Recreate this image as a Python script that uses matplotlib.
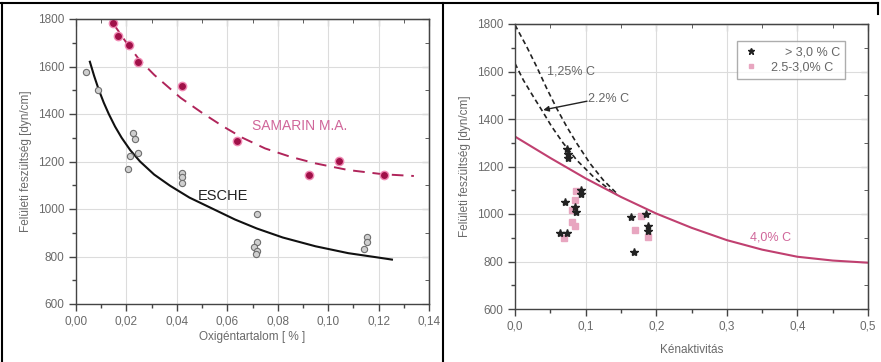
import matplotlib
matplotlib.use('Agg')
import matplotlib.pyplot as plt
from matplotlib.lines import Line2D
from matplotlib.ticker import MultipleLocator, FuncFormatter

plt.rcParams['font.family'] = ['Liberation Sans', 'DejaVu Sans']

# left panel: oxygen content
samarin_x = [0.0146, 0.0165, 0.0212, 0.0247, 0.0419, 0.064, 0.0926, 0.1045, 0.122]
samarin_y = [1782, 1730, 1692, 1618, 1517, 1285, 1144, 1203, 1144]
samarin_curve_x = [0.0145, 0.020, 0.025, 0.031, 0.0415, 0.050, 0.058, 0.066, 0.075,
                   0.085, 0.095, 0.108, 0.122, 0.134]
samarin_curve_y = [1785, 1700, 1630, 1565, 1468, 1405, 1350, 1300, 1255,
                   1220, 1192, 1164, 1146, 1139]

esche_x = [0.0038, 0.0089, 0.0225, 0.0234, 0.0214, 0.0247, 0.0208, 0.0419, 0.0419,
           0.0419, 0.0717, 0.0717, 0.0704, 0.0719, 0.0714, 0.1153, 0.1156, 0.1144]
esche_y = [1576, 1501, 1319, 1295, 1224, 1234, 1167, 1150, 1133,
           1108, 979, 862, 839, 825, 811, 883, 860, 832]
esche_curve_x = [0.0055, 0.0072, 0.009, 0.011, 0.013, 0.0155, 0.0181, 0.0215, 0.0254,
                 0.031, 0.0373, 0.045, 0.0544, 0.063, 0.0717, 0.082, 0.095, 0.108,
                 0.119, 0.1253]
esche_curve_y = [1620, 1560, 1503, 1448, 1400, 1347, 1300, 1248, 1200,
                 1145, 1098, 1048, 1000, 956, 918, 880, 843, 814,
                 797, 787]

# right panel: sulphur activity
c125_x = [0.0, 0.0165, 0.0307, 0.0449, 0.059, 0.0732, 0.0874, 0.1062, 0.125, 0.144]
c125_y = [1796, 1705, 1620, 1529, 1445, 1368, 1298, 1213, 1143, 1087]
c22_x = [0.0, 0.0118, 0.026, 0.0378, 0.052, 0.0684, 0.0874, 0.111, 0.1346, 0.144]
c22_y = [1634, 1564, 1494, 1438, 1368, 1298, 1227, 1157, 1101, 1082]
c40_x = [0.0, 0.05, 0.10, 0.15, 0.20, 0.25, 0.30, 0.35, 0.40, 0.45, 0.50]
c40_y = [1326, 1236, 1150, 1072, 1002, 942, 890, 850, 820, 804, 795]

black_x = [0.074, 0.075, 0.075, 0.094, 0.094, 0.071, 0.085, 0.087, 0.064, 0.073,
           0.164, 0.185, 0.189, 0.189, 0.168]
black_y = [1272, 1252, 1236, 1102, 1085, 1050, 1030, 1008, 920, 920,
           988, 1000, 948, 928, 840]
pink_x = [0.087, 0.085, 0.081, 0.081, 0.085, 0.069, 0.170, 0.178, 0.188]
pink_y = [1098, 1058, 1015, 968, 950, 898, 934, 993, 905]

W, H = 881, 362
fig = plt.figure(figsize=(W / 100, H / 100), dpi=100)

tick_col = '#6a6a6a'
label_col = '#6a6a6a'
magenta = '#b0245a'
pink_txt = '#d0669a'


def comma(fmt):
    return FuncFormatter(lambda v, p: (fmt % v).replace('.', ','))


def style_axes(ax, xmax, xmaj, xmin, xfmt):
    ax.set_ylim(600, 1800)
    ax.set_xlim(0, xmax)
    ax.xaxis.set_major_locator(MultipleLocator(xmaj))
    ax.xaxis.set_minor_locator(MultipleLocator(xmin))
    ax.yaxis.set_major_locator(MultipleLocator(200))
    ax.yaxis.set_minor_locator(MultipleLocator(100))
    ax.xaxis.set_major_formatter(comma(xfmt))
    ax.grid(True, which='major', color='#dcdcdc', lw=0.8)
    ax.set_axisbelow(True)
    for s in ax.spines.values():
        s.set_color('#444444')
        s.set_linewidth(1.0)
    ax.tick_params(which='major', direction='out', length=5, width=1, color='#444444',
                   labelsize=8.5, labelcolor=tick_col)
    ax.tick_params(which='minor', direction='out', length=3, width=1, color='#444444')
    top = ax.secondary_xaxis('top')
    top.xaxis.set_major_locator(MultipleLocator(xmaj))
    top.xaxis.set_minor_locator(MultipleLocator(xmin))
    top.tick_params(which='both', direction='in', labeltop=False, color='#444444')
    top.tick_params(which='major', length=5)
    top.tick_params(which='minor', length=3)
    right = ax.secondary_yaxis('right')
    right.yaxis.set_major_locator(MultipleLocator(200))
    right.yaxis.set_minor_locator(MultipleLocator(100))
    right.tick_params(which='both', direction='in', labelright=False, color='#444444')
    right.tick_params(which='major', length=5)
    right.tick_params(which='minor', length=3)
    ax.set_ylabel('Felületi feszültség [dyn/cm]', fontsize=8.5, color=label_col, labelpad=4)


# left
ax1 = fig.add_axes([76 / W, 1 - 304 / H, 353 / W, 285 / H])
style_axes(ax1, 0.14, 0.02, 0.01, '%.2f')
ax1.plot(samarin_curve_x, samarin_curve_y, color=magenta, lw=1.4, ls=(0, (6, 4)))
ax1.plot(esche_curve_x, esche_curve_y, color='#111111', lw=1.5)
ax1.plot(esche_x, esche_y, 'o', ms=4.5, mfc='#cfcfcf', mec='#6e6e6e', mew=0.8)
ax1.plot(samarin_x, samarin_y, 'o', ms=6, mfc='#a01048', mec='#f08ab4', mew=1.0)
ax1.text(0.0885, 1349, 'SAMARIN M.A.', color=pink_txt, fontsize=10, ha='center', va='center')
ax1.text(0.0583, 1056, 'ESCHE', color='#222222', fontsize=10.5, ha='center', va='center')
ax1.set_xlabel('Oxigéntartalom [ % ]', fontsize=8.5, color=label_col, labelpad=2)

# right
ax2 = fig.add_axes([515 / W, 1 - 309 / H, 353 / W, 285 / H])
style_axes(ax2, 0.5, 0.1, 0.05, '%.1f')
ax2.plot(c125_x, c125_y, color='#222222', lw=1.2, ls=(0, (3, 2)))
ax2.plot(c22_x, c22_y, color='#222222', lw=1.2, ls=(0, (3, 2)))
ax2.plot(c40_x, c40_y, color='#c04070', lw=1.5)
ax2.plot(pink_x, pink_y, 's', ms=4, mfc='#e8a6c0', mec='#e8a6c0', label='2.5-3,0% C')
ax2.plot(black_x, black_y, '*', ms=6, color='#222222', label='    > 3,0 % C')
ax2.text(0.045, 1600, '1,25% C', fontsize=9, color='#666666', ha='left', va='center')
ax2.text(0.104, 1484, '2.2% C', fontsize=9, color='#666666', ha='left', va='center')
ax2.annotate('', xy=(0.040, 1438), xytext=(0.102, 1475),
             arrowprops=dict(arrowstyle='-|>', color='#222222', lw=1.0,
                             shrinkA=0, shrinkB=0, mutation_scale=8))
ax2.text(0.362, 899, '4,0% C', fontsize=9, color=pink_txt, ha='center', va='center')
ax2.set_xlabel('Kénaktivitás', fontsize=8.5, color=label_col, labelpad=8)
h, l = ax2.get_legend_handles_labels()
leg = ax2.legend(h[::-1], l[::-1], loc='upper right', bbox_to_anchor=(0.935, 0.94),
                 fontsize=9, frameon=True, fancybox=False, edgecolor='#999999',
                 borderaxespad=0, handlelength=1.5, labelspacing=0.3, borderpad=0.4,
                 markerscale=0.8)
for t in leg.get_texts():
    t.set_color('#666666')

# frame lines around the panels
frame = dict(color='black', lw=1.5, transform=fig.transFigure)
fig.add_artist(Line2D([1.5 / W, 1.5 / W], [0, 1 - 2.5 / H], **frame))
fig.add_artist(Line2D([0, 878 / W], [1 - 2.5 / H, 1 - 2.5 / H], **frame))
fig.add_artist(Line2D([443 / W, 443 / W], [0, 1 - 2.5 / H], **frame))
fig.add_artist(Line2D([878 / W, 878 / W], [1 - 2.5 / H, 1 - 14 / H], **frame))

fig.savefig('out.png', dpi=100)
